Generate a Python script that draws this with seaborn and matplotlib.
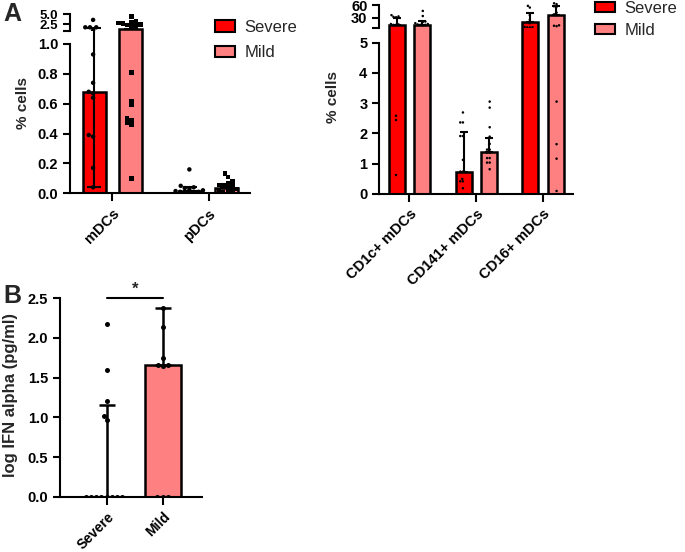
import numpy as np
import pandas as pd
import matplotlib
matplotlib.use("Agg")
import matplotlib.pyplot as plt
import seaborn as sns
from matplotlib.patches import Patch

sns.set_theme(style="ticks")
plt.rcParams["font.family"] = ["Liberation Sans", "DejaVu Sans"]
plt.rcParams["font.weight"] = "bold"
plt.rcParams["axes.labelweight"] = "bold"

# ---------------- data ----------------
groups = ["Severe", "Mild"]
bar_colors = {"Severe": "#FF0000", "Mild": "#FF8080"}
point_colors = {"Severe": "black", "Mild": "black"}

# Panel A (left)
a1_cats = ["mDCs", "pDCs"]
a1_bar = {"Severe": [0.68, 0.015], "Mild": [1.25, 0.035]}
a1_err_lo = {"Severe": [0.04, 0.015], "Mild": [1.25, 0.035]}
a1_err_hi = {"Severe": [1.5, 0.04], "Mild": [2.6, 0.06]}
a1_pts = {
    ("Severe", "mDCs"): [3.6, 1.75, 1.75, 1.75, 0.93, 0.74, 0.68, 0.67, 0.64, 0.39, 0.38, 0.17, 0.04],
    ("Mild", "mDCs"): [4.4, 3.3, 3.0, 2.8, 2.7, 2.5, 2.3, 2.0, 1.8, 0.81, 0.62, 0.59, 0.50, 0.49, 0.47, 0.46, 0.10],
    ("Severe", "pDCs"): [0.16, 0.05, 0.04, 0.035, 0.03, 0.02, 0.015, 0.01, 0.01, 0.005, 0.005, 0.0],
    ("Mild", "pDCs"): [0.134, 0.11, 0.078, 0.07, 0.056, 0.05, 0.045, 0.04, 0.03, 0.02, 0.015, 0.01, 0.01],
}

# Panel A (right)
a2_cats = ["CD1c+ mDCs", "CD141+ mDCs", "CD16+ mDCs"]
a2_bar = {"Severe": [12.8, 0.72, 19.1], "Mild": [12.8, 1.37, 36.4]}
a2_err_lo = {"Severe": [12.8, 0.72, 19.1], "Mild": [12.8, 1.37, 36.4]}
a2_err_hi = {"Severe": [28.6, 2.03, 40.4], "Mild": [23.0, 1.83, 57.6]}
a2_pts = {
    ("Severe", "CD1c+ mDCs"): [36, 33, 32, 31, 15, 14, 13, 13, 2.58, 2.44, 0.62],
    ("Mild", "CD1c+ mDCs"): [46, 34, 21, 20, 17, 15, 14, 13, 13, 12],
    ("Severe", "CD141+ mDCs"): [2.69, 2.36, 2.36, 1.91, 1.91, 1.12, 0.73, 0.73, 0.49, 0.41, 0.41, 0.18],
    ("Mild", "CD141+ mDCs"): [3.05, 2.85, 2.2, 1.89, 1.65, 1.46, 1.46, 1.36, 1.36, 1.18, 1.18, 1.03, 1.03, 0.81],
    ("Severe", "CD16+ mDCs"): [58, 54, 36, 25, 17, 8, 7.5, 7, 7],
    ("Mild", "CD16+ mDCs"): [64, 62, 57, 56, 42, 38, 36, 12, 11, 10, 3.05, 1.64, 1.16, 0.09],
}

# Panel B
b_bar = {"Severe": [0.0], "Mild": [1.66]}
b_err_lo = {"Severe": [0.0], "Mild": [1.66]}
b_err_hi = {"Severe": [1.16], "Mild": [2.38]}
b_pts = {
    "Severe": [2.18, 1.6, 1.2, 1.02, 0.97, 0, 0, 0, 0, 0, 0, 0, 0],
    "Mild": [2.38, 2.14, 1.75, 1.66, 1.66, 1.65, 0, 0, 0],
}

TICK_FS = 10.5
LABEL_FS = 11


def bars_frame(cats, bar):
    rows = [(c, g, v) for g in groups for c, v in zip(cats, bar[g])]
    return pd.DataFrame(rows, columns=["cat", "group", "value"])


def pts_frame(pts):
    rows = [(c, g, v) for (g, c), vals in pts.items() for v in vals]
    return pd.DataFrame(rows, columns=["cat", "group", "value"])


def style_ax(ax):
    for s in ["left", "bottom"]:
        ax.spines[s].set_linewidth(1.5)
        ax.spines[s].set_color("black")
    ax.spines["top"].set_visible(False)
    ax.spines["right"].set_visible(False)
    ax.tick_params(width=1.5, length=5, labelsize=TICK_FS, colors="black")
    ax.set_facecolor("none")


def draw(ax, cats, bar, lo, hi, pts_df, ylim, width, gap, capsize, psize, markers, blw):
    bdf = bars_frame(cats, bar)
    sns.barplot(data=bdf, x="cat", y="value", hue="group", order=cats, hue_order=groups,
                palette=bar_colors, saturation=1, width=width, gap=gap, edgecolor="black",
                linewidth=blw, errorbar=None, legend=False, ax=ax, zorder=2)
    for cont, g in zip(ax.containers, groups):
        for rect, h, l, u in zip(cont, bar[g], lo[g], hi[g]):
            if u < ylim[0] or l > ylim[1]:
                continue  # error bar lies wholly outside this axis segment
            x = rect.get_x() + rect.get_width() / 2
            ax.errorbar(x, h, yerr=[[h - l], [u - h]], color="black", elinewidth=1.5,
                        capsize=capsize, capthick=1.5, zorder=3)
    for g in groups:
        sub = pts_df[(pts_df.group == g) & (pts_df.value >= ylim[0]) & (pts_df.value <= ylim[1])]
        sns.swarmplot(data=sub, x="cat", y="value", hue="group", order=cats, hue_order=groups,
                      dodge=True, palette=point_colors, marker=markers[g], size=psize,
                      legend=False, ax=ax, zorder=4, linewidth=0)
    ax.set_ylim(*ylim)
    ax.set_xlabel("")
    ax.set_ylabel("")


fig = plt.figure(figsize=(6.85, 5.52), dpi=100)
W, H = 685, 552


def add_ax(x0, y_top, x1, y_bot):
    return fig.add_axes([x0 / W, 1 - y_bot / H, (x1 - x0) / W, (y_bot - y_top) / H])


# ---- Panel A left ----
a1_df = pts_frame(a1_pts)
a1_lo_ax = add_ax(70, 31, 250, 193.3)
a1_up_ax = add_ax(70, 10, 250, 31)
a1_lo_lim = (0, 1.087)
a1_up_lim = (0.825, 6.07)
mk1 = {"Severe": "o", "Mild": "s"}
draw(a1_lo_ax, a1_cats, a1_bar, a1_err_lo, a1_err_hi, a1_df, a1_lo_lim, 0.76, 0.37, 5, 3.2, mk1, 1.8)
draw(a1_up_ax, a1_cats, a1_bar, a1_err_lo, a1_err_hi, a1_df, a1_up_lim, 0.76, 0.37, 5, 3.2, mk1, 1.8)
for ax in (a1_lo_ax, a1_up_ax):
    style_ax(ax)
    ax.set_xlim(-0.44, 1.43)
a1_lo_ax.set_yticks(np.arange(0, 1.01, 0.2))
a1_lo_ax.set_yticklabels([f"{v:.1f}" for v in np.arange(0, 1.01, 0.2)])
a1_lo_ax.spines["left"].set_bounds(0, 1.0)
a1_up_ax.set_yticks([0.83, 2.5, 5.0])
a1_up_ax.set_yticklabels(["", "2.5", "5.0"])
a1_up_ax.tick_params(axis="y", labelsize=9.5)
a1_up_ax.spines["left"].set_bounds(0.83, 5.0)
a1_up_ax.spines["bottom"].set_visible(False)
a1_up_ax.tick_params(axis="x", bottom=False, labelbottom=False)
a1_lo_ax.tick_params(axis="x", length=6)
plt.setp(a1_lo_ax.get_xticklabels(), rotation=45, ha="right", rotation_mode="anchor")
a1_lo_ax.set_ylabel("% cells", fontsize=LABEL_FS)
a1_lo_ax.yaxis.set_label_coords(-0.222, 0.556)

# ---- Panel A right ----
a2_df = pts_frame(a2_pts)
a2_lo_ax = add_ax(379.3, 28, 573.3, 193.7)
a2_up_ax = add_ax(379.3, 2, 573.3, 28)
a2_lo_lim = (0, 5.487)
a2_up_lim = (5.67, 67.1)
mk2 = {"Severe": "o", "Mild": "o"}
draw(a2_lo_ax, a2_cats, a2_bar, a2_err_lo, a2_err_hi, a2_df, a2_lo_lim, 0.76, 0.37, 3, 1.8, mk2, 1.8)
draw(a2_up_ax, a2_cats, a2_bar, a2_err_lo, a2_err_hi, a2_df, a2_up_lim, 0.76, 0.37, 3, 1.8, mk2, 1.8)
for ax in (a2_lo_ax, a2_up_ax):
    style_ax(ax)
    ax.set_xlim(-0.45, 2.45)
a2_lo_ax.set_yticks(range(0, 6))
a2_lo_ax.spines["left"].set_bounds(0, 5)
a2_up_ax.set_yticks([5.7, 30, 60])
a2_up_ax.set_yticklabels(["", "30", "60"])
a2_up_ax.spines["left"].set_bounds(5.7, 60)
a2_up_ax.spines["bottom"].set_visible(False)
a2_up_ax.tick_params(axis="x", bottom=False, labelbottom=False)
a2_lo_ax.tick_params(axis="x", length=6)
plt.setp(a2_lo_ax.get_xticklabels(), rotation=45, ha="right", rotation_mode="anchor")
a2_lo_ax.set_ylabel("% cells", fontsize=LABEL_FS)
a2_lo_ax.yaxis.set_label_coords(-0.203, 0.584)

# ---- Panel B ----
b_rows = [(g, v) for g in groups for v in b_pts[g]]
b_df = pd.DataFrame(b_rows, columns=["group", "value"])
b_ax = add_ax(60, 298.3, 201.7, 496.7)
sns.barplot(data=pd.DataFrame({"group": groups, "value": [b_bar[g][0] for g in groups]}),
            x="group", y="value", hue="group", order=groups, hue_order=groups,
            palette=bar_colors, saturation=1, width=0.64, edgecolor="black", linewidth=1.8,
            errorbar=None, legend=False, ax=b_ax, zorder=2)
for cont, g in zip(b_ax.containers, groups):
    for rect in cont:
        x = rect.get_x() + rect.get_width() / 2
        h, l, u = b_bar[g][0], b_err_lo[g][0], b_err_hi[g][0]
        b_ax.errorbar(x, h, yerr=[[h - l], [u - h]], color="black", elinewidth=1.8,
                      capsize=5.5, capthick=1.8, zorder=3)
sns.swarmplot(data=b_df, x="group", y="value", order=groups, color="black", size=3.6,
              ax=b_ax, zorder=4, linewidth=0)
style_ax(b_ax)
b_ax.set_ylim(0, 2.5)
b_ax.set_xlim(-0.834, 1.696)
b_ax.set_yticks(np.arange(0, 2.51, 0.5))
b_ax.set_yticklabels([f"{v:.1f}" for v in np.arange(0, 2.51, 0.5)])
b_ax.tick_params(axis="x", length=6, labelsize=10)
plt.setp(b_ax.get_xticklabels(), rotation=45, ha="right", rotation_mode="anchor")
b_ax.set_xlabel("")
b_ax.set_ylabel("log IFN alpha (pg/ml)", fontsize=12)
b_ax.yaxis.set_label_coords(-0.296, 0.513)
b_ax.plot([0, 1], [2.5, 2.5], color="black", lw=1.5, clip_on=False)
b_ax.text(0.5, 2.52, "*", ha="center", va="bottom", fontsize=12, fontweight="bold")

# ---- legends ----
handles = [Patch(facecolor=bar_colors[g], edgecolor="black", linewidth=1.5) for g in groups]
leg_kw = dict(loc="upper left", frameon=False, prop={"size": 12, "weight": "normal"},
              borderpad=0, borderaxespad=0, handlelength=1.2, handletextpad=0.55)
fig.legend(handles, groups, bbox_to_anchor=(215 / W, 1 - 20 / H),
           handleheight=0.68, labelspacing=0.62, **leg_kw)
fig.legend(handles, groups, bbox_to_anchor=(595 / W, 1 - 1 / H),
           handleheight=0.58, labelspacing=0.4, **leg_kw)

# ---- panel letters ----
fig.text(3 / W, 1 - 2 / H, "A", fontsize=18, fontweight="bold", va="top", ha="left")
fig.text(3 / W, 1 - 284 / H, "B", fontsize=18, fontweight="bold", va="top", ha="left")

fig.savefig("out.png", dpi=100)
